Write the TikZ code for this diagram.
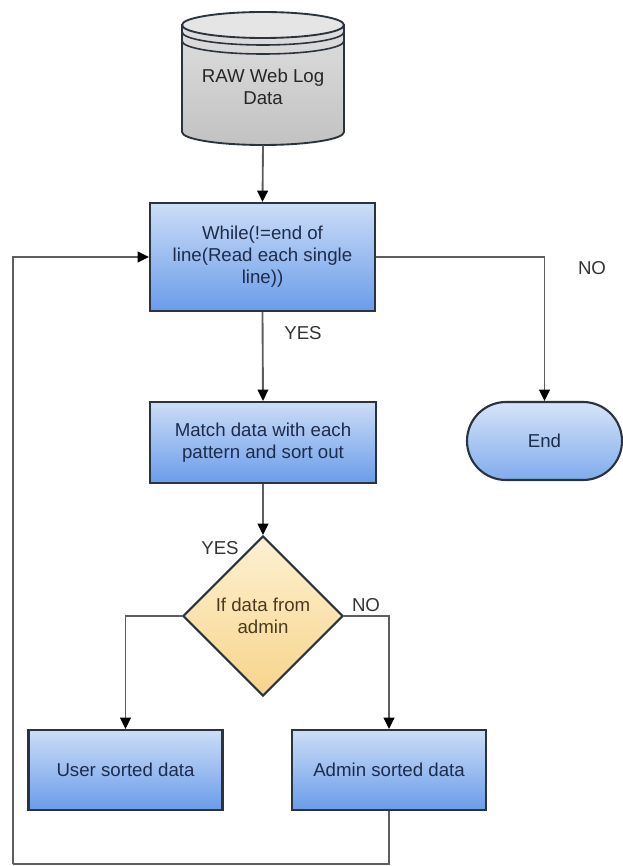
\documentclass[tikz,border=0pt]{standalone}
\usepackage{fontspec}
\setmainfont{Liberation Sans}
\usepackage{tikz}
\usetikzlibrary{arrows.meta,calc,positioning,shapes.geometric,shapes.misc}

\definecolor{boxtop}{HTML}{CCDDF7}
\definecolor{boxbot}{HTML}{6A9CEA}
\definecolor{edgeline}{HTML}{2B333F}
\definecolor{flowline}{HTML}{5E5E5E}
\definecolor{boxtext}{HTML}{1E2C4C}
\definecolor{dectop}{HTML}{FDF0D2}
\definecolor{decbot}{HTML}{F7D58A}
\definecolor{dectext}{HTML}{4A3A22}
\definecolor{dbtop}{HTML}{DEDEDE}
\definecolor{dbbot}{HTML}{C2C2C2}

\begin{document}
\begin{tikzpicture}[x=0.75pt,y=-0.75pt,
	font=\fontsize{14}{16.5}\selectfont,
	procbox/.style={rectangle,draw=edgeline,line width=1.6pt,top color=boxtop,bottom color=boxbot,text=boxtext,align=center,inner sep=0pt},
	endbox/.style={rounded rectangle,draw=edgeline,line width=1.6pt,top color=boxtop!80!white,bottom color=boxbot!85!white,text=boxtext,inner sep=0pt},
	decbox/.style={diamond,aspect=1,draw=edgeline,line width=1.6pt,top color=dectop,bottom color=decbot,text=dectext,align=center,inner sep=0pt},
	flow/.style={draw=flowline,line width=1.4pt},
	tip/.style={-{Triangle[length=8.5pt,width=8pt,color=black]}},
	lbl/.style={text=black!80,inner sep=0pt}]
		\useasboundingbox (0,0) rectangle (622,866);
		\shadedraw[top color=dbtop,bottom color=dbbot,draw=edgeline,line width=1.4pt] (182,25) -- (182,132) arc[start angle=180,end angle=0,x radius=81,y radius=13] -- (344,25) -- cycle;
		\filldraw[fill=dbtop!80!white,draw=edgeline,line width=1.4pt] (263,25) ellipse[x radius=81,y radius=13];
		\draw[edgeline,line width=1.2pt] (182,32) arc[start angle=180,end angle=0,x radius=81,y radius=13];
		\draw[edgeline,line width=1.2pt] (182,41) arc[start angle=180,end angle=0,x radius=81,y radius=13];
		\node[align=center,inner sep=0pt,minimum height=87pt,text=black!85] (data) at (263,87) {RAW Web Log\\Data};
		\node[procbox,minimum width=168.75pt,minimum height=81pt] (whileb) at (262.5,257) {While(!=end of\\line(Read each single\\line))};
		\node[procbox,minimum width=169.5pt,minimum height=60.75pt] (match) at (263,442.5) {Match data with each\\pattern and sort out};
		\node[endbox,minimum width=116.25pt,minimum height=58.5pt] (end) at (544.5,441) {End};
		\node[decbox,minimum width=120pt,minimum height=120pt] (admq) at (263,616) {If data from\\admin};
		\node[procbox,minimum width=145.5pt,minimum height=60pt] (user) at (125.5,770) {User sorted data};
		\node[procbox,minimum width=145.5pt,minimum height=60pt] (admin) at (389,770) {Admin sorted data};
		\coordinate (loopcorner) at (13,864);
		\draw[flow,tip] (data.south) -- (whileb.north);
		\draw[flow,tip] (whileb.south) -- (match.north);
		\draw[flow,tip] (whileb.east) -| (end.north);
		\draw[flow,tip] (match.south) -- (admq.north);
		\draw[flow,tip] (admq.west) -| (user.north);
		\draw[flow,tip] (admq.east) -| (admin.north);
		\draw[flow] (admin.south) |- (loopcorner);
		\draw[flow,tip] (loopcorner) |- (whileb.west);
		\node[lbl] (yesa) at (303,333) {YES};
		\node[lbl] (noa) at (592,268) {NO};
		\node[lbl] (yesb) at (220,548) {YES};
		\node[lbl] (nob) at (366,605) {NO};
		\end{tikzpicture}
\end{document}
